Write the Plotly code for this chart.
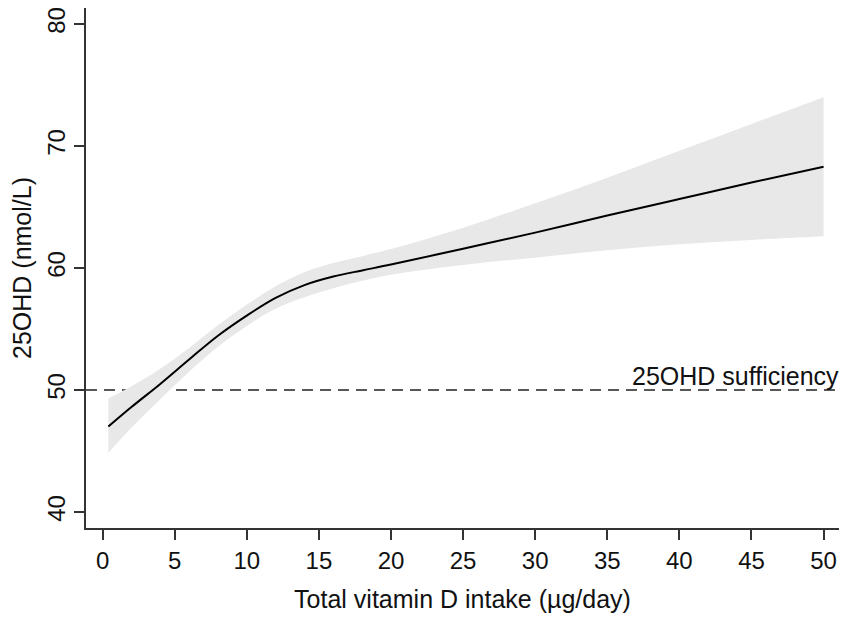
import plotly.graph_objects as go

# intake (ug/day) and predicted 25OHD with 95% CI
intake = [0.4, 2, 4, 6, 8, 10, 12, 14, 16, 18, 20, 25, 30, 35, 40, 45, 50]
fit = [47.0, 48.6, 50.5, 52.5, 54.45, 56.1, 57.55, 58.6, 59.3, 59.8, 60.28,
       61.58, 62.9, 64.3, 65.65, 67.0, 68.3]
ci_upper = [49.3, 50.3, 51.75, 53.45, 55.3, 57.0, 58.5, 59.65, 60.4, 60.97, 61.55,
            63.3, 65.3, 67.4, 69.6, 71.8, 74.0]
ci_lower = [44.85, 46.9, 49.25, 51.5, 53.55, 55.25, 56.65, 57.6, 58.35, 58.95, 59.45,
            60.25, 60.85, 61.45, 61.95, 62.3, 62.6]

sufficiency = 50
x_ticks = list(range(0, 51, 5))
y_ticks = [40, 50, 60, 70, 80]

font = "Liberation Sans, Arial, sans-serif"
axis_col = "#333333"
band_col = "#e8e8e8"

fig = go.Figure()
fig.add_trace(go.Scatter(x=intake, y=ci_upper, mode="lines",
                         line=dict(width=0, color=band_col, shape="spline",
                                   smoothing=1.0),
                         hoverinfo="skip"))
fig.add_trace(go.Scatter(x=intake, y=ci_lower, mode="lines",
                         line=dict(width=0, color=band_col, shape="spline",
                                   smoothing=1.0),
                         fill="tonexty", fillcolor=band_col, hoverinfo="skip"))
fig.add_trace(go.Scatter(x=intake, y=fit, mode="lines",
                         line=dict(width=2, color="black", shape="spline",
                                   smoothing=1.0)))

# threshold line sits under the band, like the original
fig.add_shape(type="line", xref="paper", x0=0, x1=1, yref="y",
              y0=sufficiency, y1=sufficiency, layer="below",
              line=dict(color="#222222", width=1.6, dash="11px,7px"))
fig.add_annotation(text="25OHD sufficiency", xref="paper", x=1.0,
                   yref="y", y=sufficiency, xanchor="right", yanchor="bottom",
                   xshift=2, yshift=-2, showarrow=False,
                   font=dict(family=font, size=25, color="#111111"))

# the page body has an 8px margin, so the figure is sized to fit the window
fig.update_layout(
    width=843, height=610,
    margin=dict(l=78, r=12, t=0, b=90),
    paper_bgcolor="white", plot_bgcolor="white",
    showlegend=False,
    font=dict(family=font, size=24, color="#111111"),
)
fig.update_xaxes(
    range=[-1.15, 51.07], tickvals=x_ticks, showgrid=False, zeroline=False,
    showline=True, linecolor=axis_col, linewidth=1.5,
    ticks="outside", ticklen=10, tickwidth=1.5, tickcolor=axis_col,
    tickfont=dict(size=24), automargin=False, ticklabeloverflow="allow",
    title=dict(text="Total vitamin D intake (µg/day)", font=dict(size=25),
               standoff=18),
)
fig.update_yaxes(
    range=[38.69, 81.31], tickvals=y_ticks, showgrid=False, zeroline=False,
    showline=True, linecolor=axis_col, linewidth=1.5,
    ticks="outside", ticklen=10, tickwidth=1.5, tickcolor=axis_col,
    tickfont=dict(size=24), tickangle=-90, automargin=False,
    ticklabeloverflow="allow",
    title=dict(text="25OHD (nmol/L)", font=dict(size=25), standoff=4),
)

fig.write_html("out.html")
